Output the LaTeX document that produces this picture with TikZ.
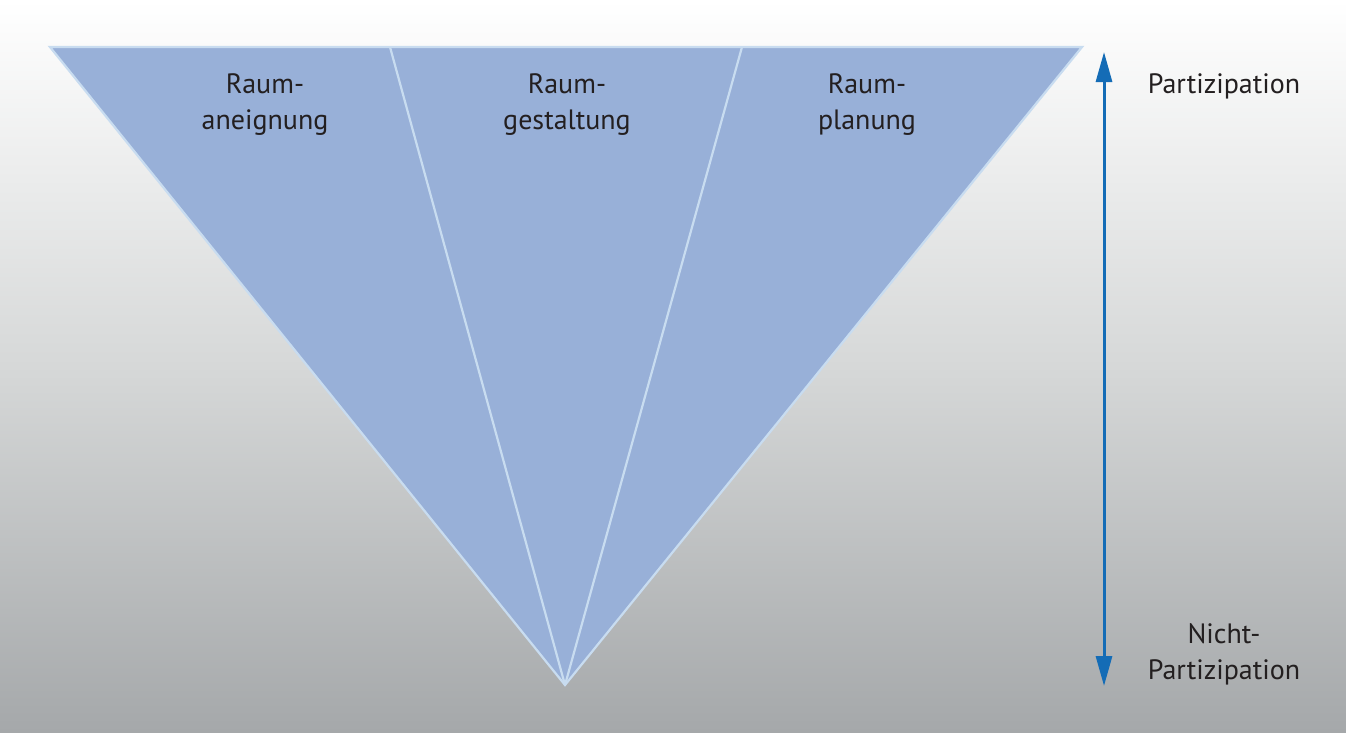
\documentclass[tikz,border=0pt]{standalone}
\usepackage{fontspec}
\setmainfont{PT Sans}
\usetikzlibrary{arrows.meta}
\definecolor{bgtop}{RGB}{255,255,255}
\definecolor{bgbot}{RGB}{165,168,170}
\definecolor{tri}{RGB}{152,176,216}
\definecolor{triline}{RGB}{200,220,240}
\definecolor{arr}{RGB}{20,108,182}
\definecolor{txt}{RGB}{35,31,32}
\tikzset{
  lbl/.style={font=\fontsize{28}{36}\selectfont, text=txt, align=center, inner sep=0pt},
  sector/.style={fill=tri, draw=triline, line width=2.2pt, line join=miter},
  divider/.style={draw=triline, line width=2.2pt},
  updown/.style={draw=arr, line width=3pt, {Triangle[length=30pt,width=16pt]}-{Triangle[length=30pt,width=16pt]}}
}
\begin{document}
\begin{tikzpicture}[x=1pt,y=-1pt]
\shade[top color=bgtop, bottom color=bgbot, middle color={rgb,255:red,214;green,216;blue,216}] (0,0) rectangle (1346,732);
\useasboundingbox (0,0) rectangle (1346,732);
\coordinate (tl) at (50,47);
\coordinate (tr) at (1082,47);
\coordinate (apex) at (565,685);
\coordinate (d1) at (390,47);
\coordinate (d2) at (742,47);
\path[sector] (tl) -- (tr) -- (apex) -- cycle;
\draw[divider] (d1) -- (apex);
\draw[divider] (d2) -- (apex);
\node[lbl] (a) at (265,105) {Raum-\\aneignung};
\node[lbl] (g) at (567,105) {Raum-\\gestaltung};
\node[lbl] (p) at (867,105) {Raum-\\planung};
\coordinate (atop) at (1104,52);
\coordinate (abot) at (1104,686);
\draw[updown] (abot) -- (atop);
\node[lbl] (part) at (1224,86) {Partizipation};
\node[lbl] (np) at (1224,654) {Nicht-\\Partizipation};
\end{tikzpicture}
\end{document}
